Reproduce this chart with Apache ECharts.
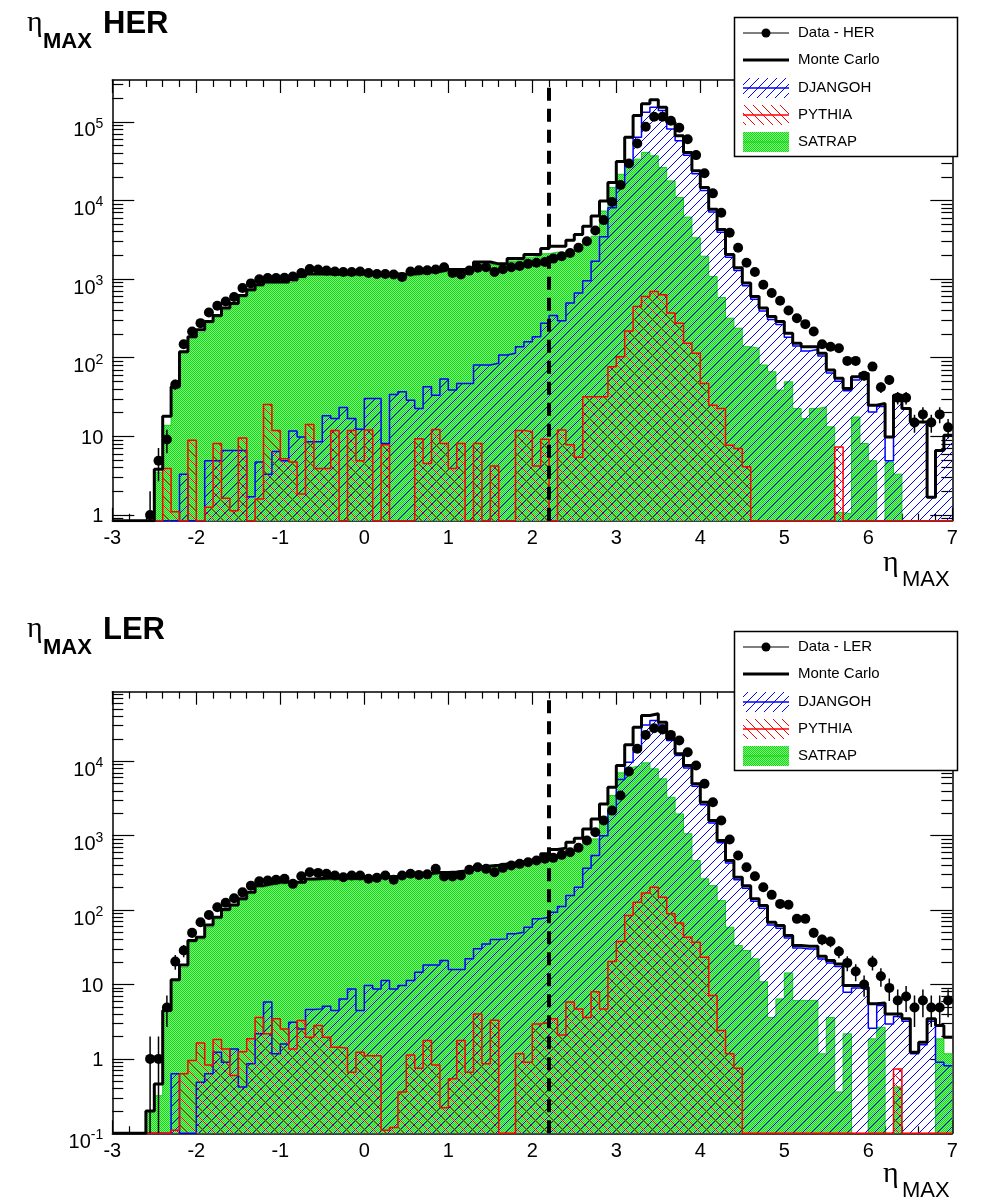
<!DOCTYPE html>
<html>
<head>
<meta charset="utf-8">
<title>eta_max HER / LER</title>
<script src="https://cdn.jsdelivr.net/npm/echarts/dist/echarts.min.js"></script>
<style>
html, body { margin: 0; padding: 0; background: #fff; }
#chart { width: 1001px; height: 1204px; }
</style>
</head>
<body>
<div id="chart"></div>
<script>
// bins: 100 bins of width 0.1 from -3 to 7
var etaMin = -3, etaMax = 7, binWidth = 0.1;
var cutEta = 2.2;

var herData = [0,0,0,0,1,4.9,9.1,45.7,148,215,
  275,375,457,519,590,770,881,991,1030,1030,
  1040,1080,1195,1345,1320,1280,1250,1230,1230,1250,
  1195,1160,1160,1140,1065,1250,1290,1290,1320,1410,
  1195,1140,1280,1390,1410,1230,1330,1410,1470,1560,
  1610,1650,1820,1950,2150,2500,3030,4150,5620,9550,
  15700,29500,53000,86500,116000,116000,103000,84000,60000,37700,
  22200,12300,6980,3880,2500,1610,1230,848,664,530,
  398,318,267,215,148,138,132,91,91,59,
  77,42,52,31,31,15,19,15,19,13];
var herMC = [0,0,0,0,0,3.8,18,42.6,119,185,
  226,288,344,427,490,620,733,848,918,918,
  918,982,1080,1160,1170,1160,1150,1150,1160,1170,
  1160,1150,1150,1160,1150,1160,1200,1230,1250,1320,
  1320,1320,1330,1650,1650,1560,1560,1820,1820,2050,
  2050,2440,2620,2620,3120,3690,4710,6320,9820,16900,
  31300,63400,120000,169000,190000,153000,98600,66500,40800,23800,
  14600,7700,4270,2050,1390,891,601,427,334,288,
  205,153,138,138,114,69.7,54.6,40.6,57.2,63,
  24.9,26.2,9.8,33.4,22.6,15.2,15.2,1.68,6.6,10.3];
var herDjangoh = [0,0,0,0,0,0,0,0,3.3,0,
  0,4.9,4.9,6.6,6.6,6.6,1.7,4.7,3.3,6.4,
  4.9,11.7,9.8,8.5,8.5,18.2,16.8,23.2,16.8,12.3,
  30.3,30.3,8.1,34,36.8,28.8,22.6,42.6,33.4,53.5,
  38.7,47.1,47.1,80.7,80.7,84.8,108,114,138,160,
  185,275,344,294,495,664,955,1680,3450,8090,
  15300,28900,63400,132000,153000,139000,81000,57400,37500,21900,
  13400,7100,3930,1890,1280,820,553,393,307,265,
  182,141,122,127,105,64,50,38,52,58,
  20.4,24,4.9,33.4,22.6,15.2,15.2,1.68,6.6,10.3];
var herPythia = [0,0,0,0,0,0,3.9,1.1,0,8.9,
  0,1.25,8.1,1.63,1.13,9.5,0,1.6,25.4,11.9,
  5.2,4.7,1.85,14.1,3.9,3.9,11.9,0,11.9,4.9,
  12,0,7.8,0,0,0,9.3,4.5,12.2,8.1,
  3.9,8.1,0,8.1,0,4.2,0,0,11.9,11.4,
  4.2,9.2,0,12,7.8,5.4,31.8,31.8,31.8,76.7,
  103,219,448,601,696,632,369,275,153,114,
  47.1,24.9,22.6,7.7,7.0,4.1,0,0,0,0,
  0,0,0,0,0,0,7.3,0,0,0,
  0,0,0,0,0,0,0,0,0,0];
var herSatrap = [0,0,0,0,0,3.5,13.8,40.6,114,177,
  211,275,324,406,471,583,696,807,874,891,
  891,935,1010,1140,1140,1120,1110,1100,1100,1110,
  1100,1090,1090,1090,1080,1100,1140,1170,1190,1250,
  1230,1240,1260,1550,1560,1480,1500,1700,1720,1900,
  1950,2100,2200,2150,2300,2600,3000,3510,7330,14600,
  21500,26700,33500,40800,36900,26200,17700,10900,6140,3350,
  1950,1080,583,318,237,138,132,80.7,66.3,38.7,
  49.4,22.6,16.8,22.6,23.7,13.2,1.08,1.03,17.6,8.1,
  4.9,0,4.7,3.3,0,0,0,0,0,0];

var lerData = [0,0,0,0,1,1,4.9,20.3,28.6,49.4,
  68.6,86,109,125,144,173,213,244,249,255,
  263,225,284,322,316,307,291,276,291,291,
  263,271,291,255,291,307,297,302,358,282,
  282,291,347,376,358,322,369,396,418,439,
  463,488,503,552,598,686,859,1110,1600,2170,
  3460,7270,14700,22600,27800,26700,22600,19000,13200,8750,
  4970,2810,1600,887,540,376,284,203,160,121,
  118,76.2,76.2,49.4,40.1,37.7,27.7,19.5,14.9,10,
  19.9,12.9,9,6.1,6.9,4.9,6.1,4.9,4.9,6.1];
var lerMC = [0,0,0,0,0.2,0.46,4.46,11.6,18.3,38.9,
  43.2,63.2,80,102,117,142,173,213,225,237,
  237,237,237,262,265,268,270,268,266,268,
  272,275,280,285,295,300,305,310,320,320,
  325,335,350,380,390,400,415,430,445,470,
  500,570,650,680,815,922,1230,1680,2670,4480,
  8750,16600,28600,41100,43400,33400,20000,12600,8750,4970,
  2810,1600,859,463,276,213,142,115,68.6,62,
  45.6,33.4,32.6,32.6,23.9,21,18.9,9.7,9.7,9.2,
  5.5,5.65,4,4,3.45,1.23,1.67,3.45,2.8,1.95];
var lerDjangoh = [0,0,0,0,0,0,0,0.63,0,0,
  0.485,0.63,1.23,0.9,1.36,0.42,0.86,2.17,5.8,1.17,
  1.59,3.1,2.53,4.6,4.7,5.1,4.46,6.4,8.7,4.46,
  9.7,8.7,11.3,8.7,9.7,11.3,14.6,18.3,18.3,21,
  15.9,15.9,22.1,30.1,35.1,40.1,41,47.9,50.4,58.8,
  76.2,80,93.4,112,157,203,365,540,1000,2170,
  5680,9700,15400,30800,35200,30800,19000,11900,8100,4600,
  2600,1480,800,430,256,197,131,106,63,57,
  42,31,30,30,22,19.5,17.5,7.85,9,8.5,
  2.58,5.2,2.95,3.7,3.2,1.17,1.55,3.2,0.9,0.81];
var lerPythia = [0,0,0,0,0,0,0,0.11,0.63,0.95,
  1.64,0.83,1.82,1.36,0.6,1.25,1.86,3.6,2.17,3.45,
  2.53,1.36,3.27,1.95,2.8,1.95,1.43,1.39,0.66,1.23,
  1.1,1.1,0.11,0.12,0.36,1.13,0.75,1.76,0.83,0.22,
  0.54,1.76,0.66,4,0.86,3.3,0,0,1.17,0.9,
  2.95,3.1,3.45,2.1,5.8,4.7,3.6,8,4.7,20.3,
  37.7,84.3,127,170,203,149,89,67,43.2,36.9,
  23.2,7.1,2.4,1.17,0.75,0,0,0,0,0,
  0,0,0,0,0,0,0,0,0,0,
  0,0,0,0.73,0,0,0,0,0,0];
var lerSatrap = [0,0,0,0,0.2,0.32,4.4,11.2,17,36.7,
  40.5,59,76,96,112,135,165,203,213,222,
  225,226,228,248,250,253,255,253,251,253,
  257,260,265,270,280,285,290,295,303,305,
  310,318,332,360,370,380,393,408,422,445,
  475,535,560,580,640,700,800,905,1770,3460,
  6980,8310,8750,9510,7900,5800,3280,1960,1060,463,
  263,213,134,58.8,33.4,28.6,22.1,10.9,3.6,6.4,
  14.3,6.1,6.1,6.1,1.17,3.6,0.36,2.17,0,0,
  1.86,2.66,0,0.42,0,0,0,0,1.86,1.17];

var herRange = [0.845, 3.4e5];
var lerRange = [0.1, 8.6e4];
var herTicks = [1, 10, 100, 1000, 1e4, 1e5];
var lerTicks = [0.1, 1, 10, 100, 1000, 1e4];

function minorTicks(range) {
  var out = [];
  for (var e = -2; e <= 6; e++) {
    for (var k = 2; k <= 9; k++) {
      var v = k * Math.pow(10, e);
      if (v > range[0] && v < range[1]) out.push(v);
    }
  }
  return out;
}

// histogram -> step line points (left edges + closing edge), empty bins sit on the floor
function stepData(vals, floor) {
  var pts = vals.map(function (v, i) {
    return [etaMin + i * binWidth, v > 0 ? v : floor];
  });
  pts.push([etaMax, pts[pts.length - 1][1]]);
  return pts;
}
function pointData(vals) {
  var out = [];
  vals.forEach(function (v, i) {
    if (v > 0) out.push([etaMin + (i + 0.5) * binWidth, v]);
  });
  return out;
}
function errData(vals, floor) {
  var out = [];
  vals.forEach(function (v, i) {
    if (v > 0) {
      var e = Math.sqrt(v);
      out.push([etaMin + (i + 0.5) * binWidth, Math.max(v - e, floor), v + e]);
    }
  });
  return out;
}

function hatchCanvas(color, forward) {
  var n = 9, c = document.createElement('canvas');
  c.width = n; c.height = n;
  var g = c.getContext('2d');
  g.strokeStyle = color; g.lineWidth = 1;
  g.beginPath();
  for (var k = -1; k <= 1; k++) {
    if (forward) { g.moveTo(k * n, n); g.lineTo(k * n + n, 0); }
    else { g.moveTo(k * n, 0); g.lineTo(k * n + n, n); }
  }
  g.stroke();
  return c;
}
function dotCanvas() {
  var c = document.createElement('canvas');
  c.width = 2; c.height = 2;
  var g = c.getContext('2d');
  g.fillStyle = '#7ef07e'; g.fillRect(0, 0, 2, 2);
  g.fillStyle = '#14d614'; g.fillRect(0, 0, 1, 1); g.fillRect(1, 1, 1, 1);
  return c;
}
var blueFill = { image: hatchCanvas('#0000ff', true), repeat: 'repeat' };
var redFill = { image: hatchCanvas('#ff0000', false), repeat: 'repeat' };
var greenFill = { image: dotCanvas(), repeat: 'repeat' };

var labelFont = 'Liberation Sans';
function powLabel(v) {
  var e = Math.round(Math.log(v) / Math.LN10);
  if (e === 0) return '{b|1}';
  if (e === 1) return '{b|10}';
  return '{bb|10}{s|' + e + '}';
}
var powRich = {
  b: { fontSize: 20, fontFamily: labelFont, color: '#000', lineHeight: 26, padding: [5, 0, 0, 0], verticalAlign: 'top' },
  bb: { fontSize: 20, fontFamily: labelFont, color: '#000', lineHeight: 26, padding: [12, 0, 0, 0], verticalAlign: 'top' },
  s: { fontSize: 14, fontFamily: labelFont, color: '#000', lineHeight: 14, padding: [8, 0, 0, 0], verticalAlign: 'top' }
};

function xAxes(gridIndex) {
  var base = {
    gridIndex: gridIndex, type: 'value', min: etaMin, max: etaMax, interval: 1,
    axisLine: { onZero: false, lineStyle: { color: '#000', width: 1.5 } },
    axisTick: { inside: true, length: 13, lineStyle: { color: '#000', width: 1.2 } },
    minorTick: { show: true, splitNumber: 5, length: 7, lineStyle: { color: '#000', width: 1.2 } },
    splitLine: { show: false }, minorSplitLine: { show: false }
  };
  return [
    Object.assign({}, base, { position: 'bottom',
      axisLabel: { show: true, margin: 8, fontSize: 20, color: '#000', fontFamily: labelFont } }),
    Object.assign({}, base, { position: 'top', axisLabel: { show: false } })
  ];
}
function yAxes(gridIndex, range, major) {
  var minor = minorTicks(range);
  var out = [];
  ['left', 'right'].forEach(function (side) {
    var base = { gridIndex: gridIndex, type: 'log', logBase: 10, min: range[0], max: range[1],
      position: side, splitLine: { show: false } };
    out.push(Object.assign({}, base, {
      axisLine: { show: true, onZero: false, lineStyle: { color: '#000', width: 1.5 } },
      axisTick: { show: true, inside: true, length: 22, customValues: major, lineStyle: { color: '#000', width: 1.2 } },
      axisLabel: side === 'left'
        ? { show: true, customValues: major, margin: 9, formatter: powLabel, rich: powRich }
        : { show: false }
    }));
    out.push(Object.assign({}, base, {
      axisLine: { show: false, onZero: false },
      axisTick: { show: true, inside: true, length: 11, customValues: minor, lineStyle: { color: '#000', width: 1.2 } },
      axisLabel: { show: false }
    }));
  });
  return out;
}

function panelSeries(p, sets, floor) {
  var xi = 2 * p, yi = 4 * p;
  function hist(name, vals, color, width, fill, z) {
    var s = {
      name: name, type: 'line', xAxisIndex: xi, yAxisIndex: yi,
      data: stepData(vals, floor), step: 'end', symbol: 'none', showSymbol: false,
      z: z, silent: true, clip: true, emphasis: { disabled: true },
      lineStyle: { color: color, width: width }
    };
    if (fill) s.areaStyle = { color: fill, opacity: 1, origin: 'start' };
    return s;
  }
  return [
    hist('SATRAP', sets.satrap, '#14d214', 1, greenFill, 2),
    hist('DJANGOH', sets.djangoh, '#0000ff', 1.5, blueFill, 3),
    hist('PYTHIA', sets.pythia, '#ff0000', 1.5, redFill, 4),
    hist('Monte Carlo', sets.mc, '#000000', 3, null, 5),
    {
      type: 'custom', xAxisIndex: xi, yAxisIndex: yi, z: 6, silent: true, clip: true,
      data: errData(sets.data, floor), encode: { x: 0, y: [1, 2] },
      renderItem: function (params, api) {
        var lo = api.coord([api.value(0), api.value(1)]);
        var hi = api.coord([api.value(0), api.value(2)]);
        return { type: 'line', shape: { x1: lo[0], y1: lo[1], x2: hi[0], y2: hi[1] },
          style: { stroke: '#000', lineWidth: 1.5 } };
      }
    },
    {
      name: sets.dataName, type: 'scatter', xAxisIndex: xi, yAxisIndex: yi, z: 7, silent: true,
      data: pointData(sets.data), symbol: 'circle', symbolSize: 10,
      itemStyle: { color: '#000', opacity: 1 }, emphasis: { disabled: true },
      markLine: {
        silent: true, symbol: ['none', 'none'], label: { show: false },
        lineStyle: { color: '#000', type: [13, 8], width: 4, opacity: 1 },
        data: [{ xAxis: cutEta }]
      }
    }
  ];
}

function panelText(dyTitle, dyName, tag) {
  var z = 100;
  return [
    { type: 'text', x: 27, y: 23 + dyTitle, z: z, style: { text: 'η', font: '30px "Liberation Serif"', fill: '#000', verticalAlign: 'middle' } },
    { type: 'text', x: 43, y: 42 + dyTitle, z: z, style: { text: 'MAX', font: 'bold 22px "Liberation Sans"', fill: '#000', verticalAlign: 'middle' } },
    { type: 'text', x: 103, y: 24.5 + dyTitle, z: z, style: { text: tag, font: 'bold 31px "Liberation Sans"', fill: '#000', verticalAlign: 'middle' } },
    { type: 'text', x: 883, y: 563 + dyName, z: z, style: { text: 'η', font: '30px "Liberation Serif"', fill: '#000', verticalAlign: 'middle' } },
    { type: 'text', x: 902, y: 580 + dyName, z: z, style: { text: 'MAX', font: '22px "Liberation Sans"', fill: '#000', verticalAlign: 'middle' } }
  ];
}

function legendGraphics(top, dataName) {
  var z = 100, L = 734.5, W = 223, H = 139, x0 = 743, x1 = 789, tx = 798;
  var rows = [15.5, 42.5, 70.5, 97.5, 124.5].map(function (r) { return top + r; });
  var names = [dataName, 'Monte Carlo', 'DJANGOH', 'PYTHIA', 'SATRAP'];
  var els = [
    { type: 'rect', z: z, shape: { x: L, y: top, width: W, height: H }, style: { fill: '#fff', stroke: '#000', lineWidth: 1.5 } },
    { type: 'line', z: z, shape: { x1: x0, y1: rows[0], x2: x1, y2: rows[0] }, style: { stroke: '#000', lineWidth: 1.2 } },
    { type: 'circle', z: z, shape: { cx: (x0 + x1) / 2, cy: rows[0], r: 4.5 }, style: { fill: '#000' } },
    { type: 'line', z: z, shape: { x1: x0, y1: rows[1], x2: x1, y2: rows[1] }, style: { stroke: '#000', lineWidth: 3 } },
    { type: 'rect', z: z, shape: { x: x0, y: rows[2] - 10, width: x1 - x0, height: 20 }, style: { fill: blueFill } },
    { type: 'line', z: z, shape: { x1: x0, y1: rows[2], x2: x1, y2: rows[2] }, style: { stroke: '#0000ff', lineWidth: 1.5 } },
    { type: 'rect', z: z, shape: { x: x0, y: rows[3] - 10, width: x1 - x0, height: 20 }, style: { fill: redFill } },
    { type: 'line', z: z, shape: { x1: x0, y1: rows[3], x2: x1, y2: rows[3] }, style: { stroke: '#ff0000', lineWidth: 1.5 } },
    { type: 'rect', z: z, shape: { x: x0, y: rows[4] - 10, width: x1 - x0, height: 20 }, style: { fill: greenFill } },
    { type: 'line', z: z, shape: { x1: x0, y1: rows[4], x2: x1, y2: rows[4] }, style: { stroke: '#14d214', lineWidth: 1 } }
  ];
  names.forEach(function (n, i) {
    els.push({ type: 'text', z: z, x: tx, y: rows[i], style: { text: n, font: '15px "Liberation Sans"', fill: '#000', verticalAlign: 'middle' } });
  });
  return els;
}

var chart = echarts.init(document.getElementById('chart'), null, { renderer: 'canvas' });

var option = {
  animation: false,
  backgroundColor: '#fff',
  textStyle: { fontFamily: labelFont },
  grid: [
    { left: 112.3, top: 80, width: 840, height: 440.7, containLabel: false, outerBoundsMode: 'none' },
    { left: 112.3, top: 691.7, width: 840, height: 441.6, containLabel: false, outerBoundsMode: 'none' }
  ],
  xAxis: xAxes(0).concat(xAxes(1)),
  yAxis: yAxes(0, herRange, herTicks).concat(yAxes(1, lerRange, lerTicks)),
  series: panelSeries(0, { data: herData, mc: herMC, djangoh: herDjangoh, pythia: herPythia, satrap: herSatrap, dataName: 'Data - HER' }, herRange[0])
    .concat(panelSeries(1, { data: lerData, mc: lerMC, djangoh: lerDjangoh, pythia: lerPythia, satrap: lerSatrap, dataName: 'Data - LER' }, lerRange[0])),
  graphic: panelText(0, 0, 'HER').concat(panelText(606, 611, 'LER'))
    .concat(legendGraphics(17.5, 'Data - HER')).concat(legendGraphics(631.5, 'Data - LER'))
};

chart.setOption(option);
</script>
</body>
</html>
